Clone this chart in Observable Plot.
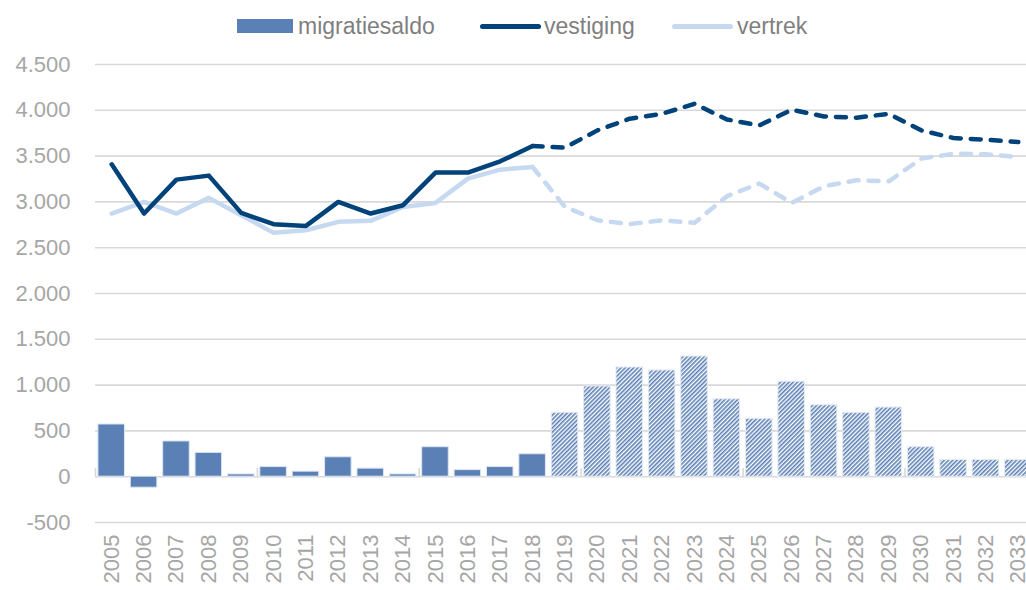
<!DOCTYPE html>
<html>
<head>
<meta charset="utf-8">
<script src="https://cdn.jsdelivr.net/npm/d3@7"></script>
<script src="https://cdn.jsdelivr.net/npm/@observablehq/plot@0.6"></script>
<style>
  html, body { margin: 0; padding: 0; background: #fff; overflow: hidden; width: 1026px; height: 590px; }
  #legend { position: relative; height: 50px; font-family: 'Liberation Sans', Arial, sans-serif; font-size: 23px; color: #7f7f7f; }
  #legend .sw { position: absolute; }
  #legend .lb { position: absolute; top: 12px; line-height: 28px; white-space: nowrap; }
  #chart { width: 1034px; }
  #chart svg { display: block; max-width: none !important; }
</style>
</head>
<body>
<div id="legend"></div>
<div id="chart"></div>
<script>
// ---- data ----
const years = [2005, 2006, 2007, 2008, 2009, 2010, 2011, 2012, 2013, 2014, 2015, 2016, 2017, 2018,
               2019, 2020, 2021, 2022, 2023, 2024, 2025, 2026, 2027, 2028, 2029, 2030, 2031, 2032, 2033];
const migratiesaldo = [570, -120, 385, 260, 25, 105, 55, 212, 88, 25, 322, 72, 105, 245,
                       698, 985, 1192, 1160, 1312, 845, 632, 1037, 780, 697, 755, 322, 182, 182, 182];
const vestiging = [3410, 2873, 3243, 3287, 2880, 2757, 2738, 3000, 2873, 2964, 3320, 3320, 3443, 3610,
                   3592, 3781, 3908, 3962, 4071, 3900, 3835, 4006, 3933, 3919, 3962, 3781, 3697, 3679, 3653];
const vertrek = [2873, 3000, 2873, 3044, 2855, 2662, 2691, 2782, 2793, 2945, 2989, 3254, 3352, 3381,
                 2945, 2800, 2757, 2800, 2771, 3062, 3200, 2989, 3171, 3236, 3225, 3472, 3526, 3519, 3490];
const lastObservedYear = 2018;
const yTicks = [-500, 0, 500, 1000, 1500, 2000, 2500, 3000, 3500, 4000, 4500];
const axisTickYears = [2005, 2010, 2015, 2020, 2025, 2030];
const seriesNames = ["migratiesaldo", "vestiging", "vertrek"];

// ---- colours ----
const barColor = "#5b80b5";
const darkLine = "#00427a";
const lightLine = "#c6d9f1";
const gridColor = "#d9d9d9";

// ---- legend ----
const legend = document.getElementById("legend");
legend.innerHTML = `
  <div class="sw" style="left:237px;top:19px;width:56px;height:14px;background:${barColor}"></div>
  <div class="lb" style="left:298px">${seriesNames[0]}</div>
  <div class="sw" style="left:480px;top:24px;width:61px;height:5px;border-radius:3px;background:${darkLine}"></div>
  <div class="lb" style="left:544px">${seriesNames[1]}</div>
  <div class="sw" style="left:672px;top:24px;width:61px;height:5px;border-radius:3px;background:${lightLine}"></div>
  <div class="lb" style="left:737px">${seriesNames[2]}</div>`;

// ---- table ----
const rows = years.map((year, i) => ({
  year, saldo: migratiesaldo[i], vestiging: vestiging[i], vertrek: vertrek[i],
  projected: year > lastObservedYear
}));
const observed = rows.filter(d => d.year <= lastObservedYear);
const projected = rows.filter(d => d.year >= lastObservedYear);

const nl = d3.formatLocale({decimal: ",", thousands: ".", grouping: [3], currency: ["€", ""], minus: "-"});
const fmt = nl.format(",");

const dash = {strokeDasharray: "10,10", strokeLinecap: "round", strokeLinejoin: "round"};

const chart = Plot.plot({
  width: 1034,
  height: 540,
  marginTop: 14,
  marginBottom: 68,
  marginLeft: 95,
  marginRight: 0,
  style: {fontFamily: "'Liberation Sans', Arial, sans-serif", fontSize: "22px", color: "#a6a6a6", background: "white", overflow: "visible", maxWidth: "none"},
  x: {type: "band", domain: years, paddingInner: 0.18, paddingOuter: 0.09, round: false, tickRotate: -90, tickSize: 0, tickPadding: 12, tickFormat: d => String(d), label: null},
  y: {domain: [-500, 4500], ticks: yTicks, tickFormat: fmt, tickSize: 0, tickPadding: 25, label: null},
  marks: [
    Plot.ruleY(yTicks, {stroke: gridColor, strokeWidth: 1.6}),
    Plot.barY(rows.filter(d => !d.projected), {x: "year", y: "saldo", fill: barColor, stroke: "#dce6f2", strokeWidth: 1}),
    Plot.barY(rows.filter(d => d.projected), {x: "year", y: "saldo", fill: "url(#hatch)", stroke: "#e4ecf6", strokeWidth: 1}),
    Plot.ruleX(axisTickYears, {x: d => d, y1: 0, y2: 90, dx: -16.2, stroke: gridColor, strokeWidth: 1.6}),
    Plot.line(observed, {x: "year", y: "vertrek", stroke: lightLine, strokeWidth: 4.5, strokeLinejoin: "round"}),
    Plot.line(projected, {x: "year", y: "vertrek", stroke: lightLine, strokeWidth: 4.5, ...dash}),
    Plot.line(observed, {x: "year", y: "vestiging", stroke: darkLine, strokeWidth: 4.5, strokeLinejoin: "round"}),
    Plot.line(projected, {x: "year", y: "vestiging", stroke: darkLine, strokeWidth: 4.5, ...dash})
  ]
});
chart.style.maxWidth = "none";

const ns = "http://www.w3.org/2000/svg";
const defs = document.createElementNS(ns, "defs");
defs.innerHTML = `<pattern id="hatch" patternUnits="userSpaceOnUse" width="3" height="3" patternTransform="rotate(45)">
  <rect width="3" height="3" fill="#ffffff"></rect>
  <rect width="1.6" height="3" fill="${barColor}"></rect>
</pattern>`;
chart.insertBefore(defs, chart.firstChild);
document.getElementById("chart").appendChild(chart);
</script>
</body>
</html>
